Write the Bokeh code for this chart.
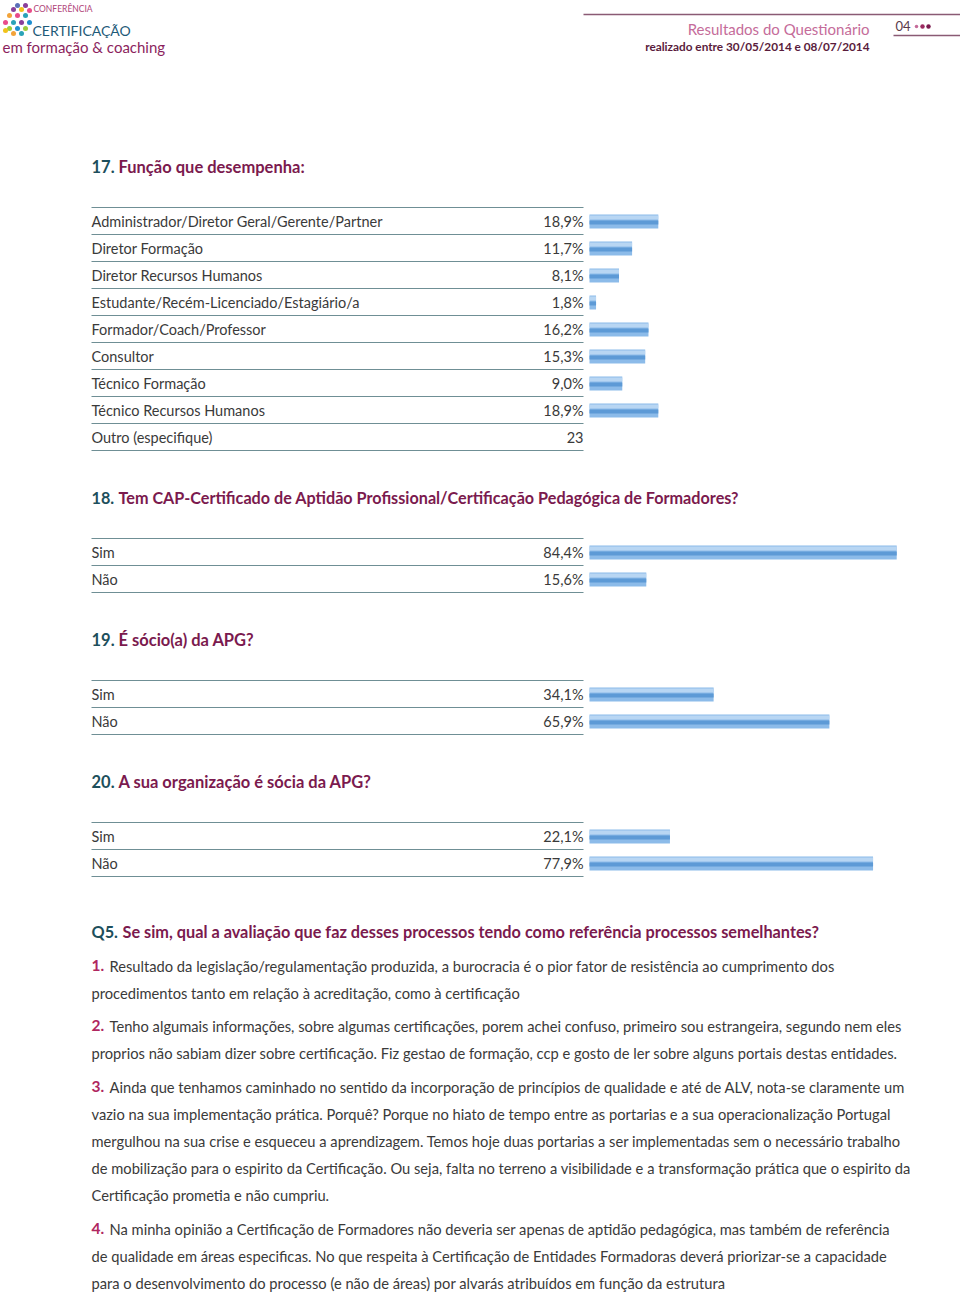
from bokeh.plotting import figure
from bokeh.models import Range1d, ColumnDataSource
from bokeh.core.properties import value
from bokeh.embed import file_html
from bokeh.resources import INLINE

# ---------------- data ----------------
q17_categories = ["Administrador/Diretor Geral/Gerente/Partner", "Diretor Formação",
                  "Diretor Recursos Humanos", "Estudante/Recém-Licenciado/Estagiário/a",
                  "Formador/Coach/Professor", "Consultor", "Técnico Formação",
                  "Técnico Recursos Humanos", "Outro (especifique)"]
q17_values = [18.9, 11.7, 8.1, 1.8, 16.2, 15.3, 9.0, 18.9]
q17_other_count = "23"

q18_categories = ["Sim", "Não"]
q18_values = [84.4, 15.6]
q19_categories = ["Sim", "Não"]
q19_values = [34.1, 65.9]
q20_categories = ["Sim", "Não"]
q20_values = [22.1, 77.9]

q5_answers = [
    ["Resultado da legislação/regulamentação produzida, a burocracia é o pior fator de resistência ao cumprimento dos",
     "procedimentos tanto em relação à acreditação, como à certificação"],
    ["Tenho algumais informações, sobre algumas certificações, porem achei confuso, primeiro sou estrangeira, segundo nem eles",
     "proprios não sabiam dizer sobre certificação. Fiz gestao de formação, ccp e gosto de ler sobre alguns portais destas entidades."],
    ["Ainda que tenhamos caminhado no sentido da incorporação de princípios de qualidade e até de ALV, nota-se claramente um",
     "vazio na sua implementação prática. Porquê? Porque no hiato de tempo entre as portarias e a sua operacionalização Portugal",
     "mergulhou na sua crise e esqueceu a aprendizagem. Temos hoje duas portarias a ser implementadas sem o necessário trabalho",
     "de mobilização para o espirito da Certificação. Ou seja, falta no terreno a visibilidade e a transformação prática que o espirito da",
     "Certificação prometia e não cumpriu."],
    ["Na minha opinião a Certificação de Formadores não deveria ser apenas de aptidão pedagógica, mas também de referência",
     "de qualidade em áreas especificas. No que respeita à Certificação de Entidades Formadoras deverá priorizar-se a capacidade",
     "para o desenvolvimento do processo (e não de áreas) por alvarás atribuídos em função da estrutura"],
]


def pct(v):
    return f"{v:.1f}".replace(".", ",") + "%"


# ---------------- figure ----------------
W, H = 960, 1294
p = figure(width=W, height=H, x_range=Range1d(0, W), y_range=Range1d(H, 0),
           output_backend="svg", toolbar_location=None, min_border=0)
p.axis.visible = False
p.grid.visible = False
p.outline_line_color = None
p.background_fill_color = "white"

# percentage scale for the bars: 0% at x=589, 3.64 px per percent
BAR0, PXPER = 589.0, 3.64
p.extra_x_ranges = {"pct": Range1d(start=-BAR0 / PXPER, end=(W - BAR0) / PXPER)}

FONT = value("Lato")
BODY = "#3a3a3a"
TEAL = "#1d4f5c"
MAG = "#7b1a4e"
RED = "#b0275f"
LINE = "#6f8f95"


def txt(x, y, s, size="14.5px", color=BODY, align="left", style="normal", font=FONT):
    p.text(x=[x], y=[y], text=[s], text_font=font, text_font_size=size,
           text_color=color, text_align=align, text_baseline="middle",
           text_font_style=style)


def bars(ys, vals):
    src = ColumnDataSource(dict(y=ys, right=vals, left=[0] * len(vals)))
    p.hbar(y="y", left="left", right="right", height=14, source=src,
           x_range_name="pct", fill_color="#8cbbe9", line_color=None)
    src2 = ColumnDataSource(dict(y=[v - 4 for v in ys], right=vals, left=[0] * len(vals)))
    p.hbar(y="y", left="left", right="right", height=4, source=src2,
           x_range_name="pct", fill_color="#b8d6f3", line_color=None)
    src3 = ColumnDataSource(dict(y=[v + 1 for v in ys], right=vals, left=[0] * len(vals)))
    p.hbar(y="y", left="left", right="right", height=4, source=src3,
           x_range_name="pct", fill_color="#5d9ad6", line_color=None)


def table(y0, cats, labels, vals):
    n = len(cats)
    ys = [y0 + 27 * i for i in range(n)]
    line_ys = [y0 - 14 + 27 * i for i in range(n + 1)]
    p.segment(x0=[91] * (n + 1), x1=[583] * (n + 1), y0=line_ys, y1=line_ys,
              line_color=LINE, line_width=1.2)
    for y, c, l in zip(ys, cats, labels):
        txt(91, y, c)
        txt(583, y, l, align="right")
    bars(ys[:len(vals)], vals)


def title(y, num, rest, dx, size="16.5px"):
    txt(91, y, num, size=size, color=TEAL, style="bold")
    txt(91 + dx, y, rest, size=size, color=MAG, style="bold")


# ---------------- header ----------------
dots = [(5, 22, "#e94b8a"), (9, 15, "#f2a33a"), (13, 9, "#8a3f9a"), (17, 5, "#5b6fb8"),
        (9, 28, "#9ccc3c"), (13, 22, "#2aa3b8"), (17, 15, "#e94b8a"), (21, 9, "#f2c21b"),
        (25, 5, "#8a3f9a"), (17, 28, "#1f8fd0"), (21, 22, "#8a3f9a"), (25, 15, "#2aa3b8"),
        (29, 10, "#e94b8a"), (13, 33, "#f2a33a"), (21, 33, "#2aa3b8"), (25, 28, "#9ccc3c"),
        (5, 30, "#f2c21b"), (29, 22, "#1f8fd0")]
p.scatter(x=[d[0] for d in dots], y=[d[1] for d in dots], size=5,
          fill_color=[d[2] for d in dots], line_color=None)
txt(33, 8, "CONFERÊNCIA", size="8.5px", color="#b0447a")
txt(32, 30, "CERTIFICAÇÃO", size="14px", color="#1d5a78")
txt(2, 46, "em formação & coaching", size="15px", color="#8c1f5e")

p.segment(x0=[583], x1=[W], y0=[14], y1=[14], line_color="#8a5a74", line_width=1.5)
p.segment(x0=[893], x1=[W], y0=[35], y1=[35], line_color="#8a5a74", line_width=1.5)
txt(869, 28, "Resultados do Questionário", size="15px", color="#c56c9a", align="right")
txt(869, 46, "realizado entre 30/05/2014 e 08/07/2014", size="11.8px", color="#5a1c3c",
    align="right", style="bold")
txt(895, 25, "04", size="13px", color="#5a3a4a")
p.scatter(x=[916, 922, 928], y=[26, 26, 26], size=[3.5, 4.5, 4.5],
          fill_color=["#c56c9a", "#9b2a60", "#7b1a4e"], line_color=None)

# ---------------- Q17 ----------------
title(166, "17.", "Função que desempenha:", 27)
table(221, q17_categories, [pct(v) for v in q17_values] + [q17_other_count], q17_values)

# ---------------- Q18 ----------------
title(497, "18.", "Tem CAP-Certificado de Aptidão Profissional/Certificação Pedagógica de Formadores?", 27,
      size="16.2px")
table(552, q18_categories, [pct(v) for v in q18_values], q18_values)

# ---------------- Q19 ----------------
title(639, "19.", "É sócio(a) da APG?", 27)
table(694, q19_categories, [pct(v) for v in q19_values], q19_values)

# ---------------- Q20 ----------------
title(781, "20.", "A sua organização é sócia da APG?", 27)
table(836, q20_categories, [pct(v) for v in q20_values], q20_values)

# ---------------- Q5 ----------------
title(931, "Q5.", "Se sim, qual a avaliação que faz desses processos tendo como referência processos semelhantes?", 31,
      size="16.3px")
starts = [966, 1026, 1087, 1229]
for k, (ans, y0) in enumerate(zip(q5_answers, starts)):
    txt(91, y0 - 1, f"{k + 1}.", size="15.5px", color=RED, style="bold")
    for j, line in enumerate(ans):
        x = 109 if j == 0 else 91
        txt(x, y0 - 1 + 27 * j, line, size="14.7px")

open("out.html", "w").write(file_html(p, INLINE))
